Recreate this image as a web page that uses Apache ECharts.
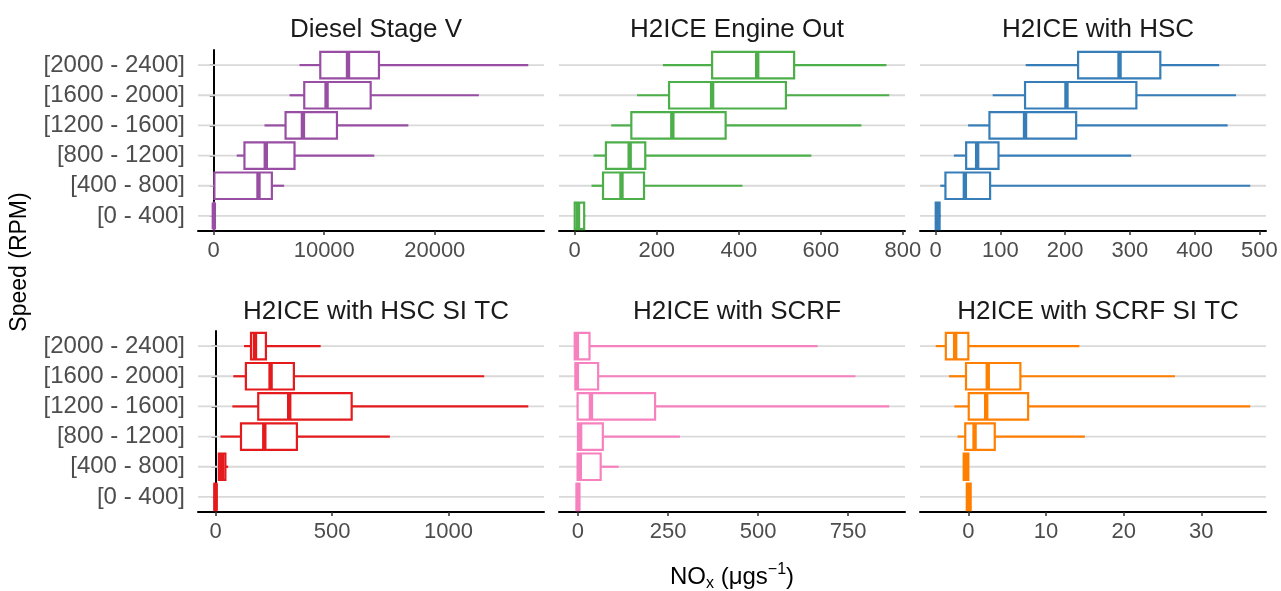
<!DOCTYPE html>
<html>
<head>
<meta charset="utf-8">
<script src="https://cdn.jsdelivr.net/npm/echarts@6/dist/echarts.min.js"></script>
<style>
html,body{margin:0;padding:0;background:#ffffff}
#dataView{width:1281px;height:591px}
</style>
</head>
<body>
<div id="dataView"></div>
<script>
// speed bands, bottom to top
var speedBands = ['[0 - 400]', '[400 - 800]', '[800 - 1200]', '[1200 - 1600]', '[1600 - 2000]', '[2000 - 2400]'];
var panelTitles = ['Diesel Stage V', 'H2ICE Engine Out', 'H2ICE with HSC',
	'H2ICE with HSC SI TC', 'H2ICE with SCRF', 'H2ICE with SCRF SI TC'];
var panelColors = ['#984ea3', '#4daf4a', '#377eb8', '#e41a1c', '#f781bf', '#ff7f00'];

// [low whisker, Q1, median, Q3, high whisker] for each speed band
var dieselStageV = [
	[0, 0, 10, 40, 80],
	[0, 60, 4050, 5260, 6370],
	[2080, 2780, 4710, 7310, 14530],
	[4590, 6500, 8070, 11150, 17610],
	[6860, 8190, 10210, 14200, 23990],
	[7760, 9640, 12150, 14950, 28460]
];
var engineOut = [
	[0, 0, 8, 23, 26],
	[41, 69, 114, 169, 409],
	[46, 76, 134, 172, 577],
	[89, 138, 238, 368, 699],
	[152, 230, 335, 515, 767],
	[215, 335, 445, 535, 760]
];
var withHsc = [
	[0, 0, 3, 6, 8],
	[7, 15, 45, 84, 486],
	[28, 47, 64, 97, 302],
	[50, 83, 138, 217, 451],
	[88, 138, 202, 310, 464],
	[139, 220, 284, 347, 438]
];
var withHscSiTc = [
	[-8, -5, 0, 4, 6],
	[11, 14, 28, 42, 54],
	[21, 109, 209, 349, 748],
	[72, 183, 316, 584, 1342],
	[76, 130, 236, 336, 1153],
	[122, 152, 169, 216, 451]
];
var withScrf = [
	[-5, -4, 0, 4, 5],
	[-1, -1, 5, 63, 113],
	[-1, 0, 6, 69, 283],
	[-3, -1, 36, 214, 864],
	[-7, -7, -3, 56, 770],
	[-9, -9, -3, 32, 665]
];
var withScrfSiTc = [
	[-0.2, -0.2, 0.05, 0.3, 0.3],
	[-0.6, -0.6, -0.3, 0, 0],
	[-1.4, -0.4, 0.8, 3.4, 15.0],
	[-1.8, 0.05, 2.3, 7.7, 36.3],
	[-2.5, -0.3, 2.5, 6.7, 26.6],
	[-4.2, -2.9, -1.7, 0, 14.3]
];

var dieselTicks = [0, 10000, 20000];
var engineOutTicks = [0, 200, 400, 600, 800];
var hscTicks = [0, 100, 200, 300, 400, 500];
var hscSiTcTicks = [0, 500, 1000];
var scrfTicks = [0, 250, 500, 750];
var scrfSiTcTicks = [0, 10, 20, 30];

var panelData = [dieselStageV, engineOut, withHsc, withHscSiTc, withScrf, withScrfSiTc];
var panelTicks = [dieselTicks, engineOutTicks, hscTicks, hscSiTcTicks, scrfTicks, scrfSiTcTicks];

var FONT = '"Liberation Sans", Arial, sans-serif';
var gridLefts = [198, 559, 920];
var gridTops = [50, 331];
var titleTops = [12, 294];
var gridW = 346, gridH = 181;

function renderBox(params, api) {
	var row = api.value(0);
	var color = panelColors[params.seriesIndex];
	var lo = api.coord([api.value(1), row]);
	var q1 = api.coord([api.value(2), row]);
	var md = api.coord([api.value(3), row]);
	var q3 = api.coord([api.value(4), row]);
	var hi = api.coord([api.value(5), row]);
	var h = api.size([0, 1])[1] * 0.88;
	var cs = params.coordSys;
	var y = lo[1];
	return {
		type: 'group',
		children: [
			{type: 'line', shape: {x1: cs.x, y1: y, x2: cs.x + cs.width, y2: y},
				style: {stroke: '#d9d9d9', lineWidth: 1.8}},
			{type: 'line', shape: {x1: lo[0], y1: y, x2: q1[0], y2: y},
				style: {stroke: color, lineWidth: 2.2}},
			{type: 'line', shape: {x1: q3[0], y1: y, x2: hi[0], y2: y},
				style: {stroke: color, lineWidth: 2.2}},
			{type: 'rect', shape: {x: q1[0], y: y - h / 2, width: q3[0] - q1[0], height: h},
				style: {fill: '#ffffff', stroke: color, lineWidth: 2.2}},
			{type: 'line', shape: {x1: md[0], y1: y - h / 2, x2: md[0], y2: y + h / 2},
				style: {stroke: color, lineWidth: 4.4}}
		]
	};
}

var grids = [], xAxes = [], yAxes = [], titles = [], series = [];
for (var i = 0; i < 6; i++) {
	var col = i % 3, rowIdx = Math.floor(i / 3);
	var d = panelData[i];
	var lo = Infinity, hi = -Infinity;
	d.forEach(function(r) {
		lo = Math.min(lo, r[0]);
		hi = Math.max(hi, r[4]);
	});
	var pad = (hi - lo) * 0.05;
	grids.push({left: gridLefts[col], top: gridTops[rowIdx], width: gridW, height: gridH});
	xAxes.push({
		type: 'value', gridIndex: i, min: lo - pad, max: hi + pad,
		axisLine: {show: true, lineStyle: {color: '#000', width: 2}},
		axisTick: {show: true, length: 4, lineStyle: {color: '#333', width: 1.5}, customValues: panelTicks[i]},
		axisLabel: {color: '#4d4d4d', fontSize: 22, fontFamily: FONT, margin: 9,
			customValues: panelTicks[i],
			formatter: function(v) { return String(v); }},
		splitLine: {show: false}
	});
	yAxes.push({
		type: 'category', gridIndex: i, data: speedBands, show: col === 0,
		axisLine: {show: true, lineStyle: {color: '#000', width: 2}},
		axisTick: {show: true, alignWithLabel: true, interval: 0, length: 4, lineStyle: {color: '#333', width: 1.5}},
		axisLabel: {color: '#4d4d4d', fontSize: 24, fontFamily: FONT, margin: 13, interval: 0},
		splitLine: {show: false}
	});
	titles.push({
		text: panelTitles[i],
		left: gridLefts[col] + gridW / 2,
		top: titleTops[rowIdx],
		textAlign: 'center',
		textStyle: {color: '#1a1a1a', fontSize: 26, fontWeight: 'normal', fontFamily: FONT}
	});
	series.push({
		type: 'custom',
		name: panelTitles[i],
		xAxisIndex: i,
		yAxisIndex: i,
		renderItem: renderBox,
		encode: {x: [1, 2, 3, 4, 5], y: 0},
		data: d.map(function(r, k) { return [k].concat(r); })
	});
}

var dataViewcharts = echarts.init(document.getElementById('dataView'));
var dataViewoption = {
	backgroundColor: '#ffffff',
	animation: false,
	title: titles,
	grid: grids,
	xAxis: xAxes,
	yAxis: yAxes,
	series: series,
	graphic: [
		{
			type: 'text',
			x: 20, y: 262,
			rotation: Math.PI / 2,
			style: {text: 'Speed (RPM)', fill: '#000', fontSize: 23, fontFamily: FONT,
				align: 'center', verticalAlign: 'middle'}
		},
		{
			type: 'text',
			x: 732, y: 577,
			style: {
				text: '{n|NO}{s|x}{n| (μgs}{p|−1}{n|)}',
				align: 'center', verticalAlign: 'middle',
				rich: {
					n: {fontSize: 24, fontFamily: FONT, fill: '#000', lineHeight: 34, verticalAlign: 'middle'},
					s: {fontSize: 16, fontFamily: FONT, fill: '#000', padding: [14, 0, 0, 0], lineHeight: 34},
					p: {fontSize: 16, fontFamily: FONT, fill: '#000', padding: [0, 0, 14, 0], lineHeight: 34}
				}
			}
		}
	]
};
dataViewcharts.setOption(dataViewoption);
</script>
</body>
</html>
